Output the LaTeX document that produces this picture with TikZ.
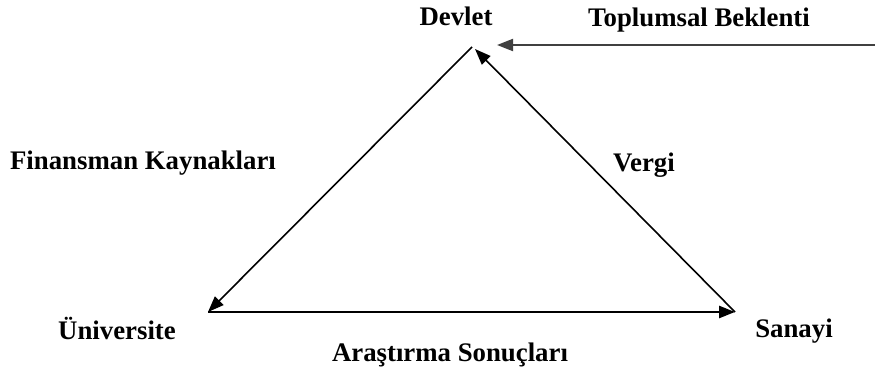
\documentclass[tikz,border=0pt]{standalone}
\usepackage{fontspec}
\setmainfont{Liberation Serif}
\usetikzlibrary{arrows.meta}

\begin{document}
\begin{tikzpicture}[x=.5pt,y=-.5pt,>={Triangle[length=8pt,width=6pt]},every node/.style={font=\fontsize{13.4}{15}\selectfont\bfseries,inner sep=0pt,anchor=base}]
\useasboundingbox (0,0) rectangle (875,374);
\coordinate (apex) at (472,47);
\coordinate (apexR) at (475,49);
\coordinate (uni) at (208,312);
\coordinate (san) at (735,312);
\coordinate (bekStart) at (875,45);
\coordinate (bekEnd) at (497,45);
\node (devlet) at (456,26){Devlet};
\node (toplum) at (699,27){Toplumsal Beklenti};
\node (finans) at (143,170){Finansman Kaynakları};
\node (vergi) at (644,172){Vergi};
\node (univ) at (117,340){Üniversite};
\node (sanayi) at (794,338){Sanayi};
\node (arast) at (450,362){Araştırma Sonuçları};
\draw[line width=.8pt,->] (apex)--(uni);
\draw[line width=.8pt,->] (san)--(apexR);
\draw[line width=1.3pt,->] (uni)--(san);
\draw[line width=1pt,draw=black!75,->] (bekStart)--(bekEnd);
\end{tikzpicture}
\end{document}
